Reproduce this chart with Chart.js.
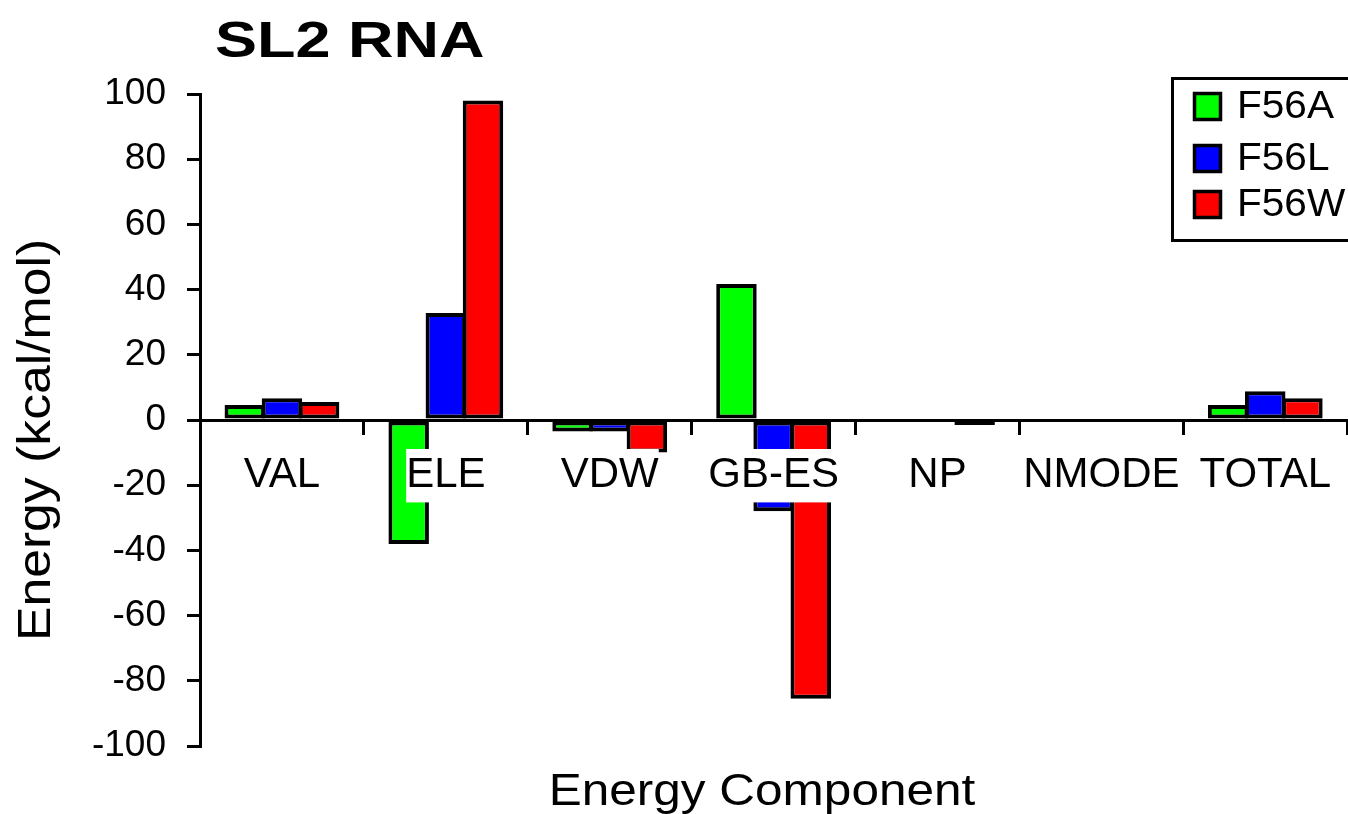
<!DOCTYPE html>
<html>
<head>
<meta charset="utf-8">
<script src="https://cdn.jsdelivr.net/npm/chart.js@4.4.1/dist/chart.umd.min.js"></script>
<style>
  html, body { margin: 0; padding: 0; background: #ffffff; }
  #wrap { width: 1348px; height: 814px; position: relative; }
</style>
</head>
<body>
<div id="wrap"><canvas id="c" width="1348" height="814"></canvas></div>
<script>
const chartTitle = "SL2 RNA";
const xTitle = "Energy Component";
const yTitle = "Energy (kcal/mol)";
const categories = ["VAL", "ELE", "VDW", "GB-ES", "NP", "NMODE", "TOTAL"];
const seriesNames = ["F56A", "F56L", "F56W"];
const seriesColors = ["#00ff00", "#0000ff", "#ff0000"];
const f56a = [4.6, -38, -3.5, 41.7, 0, 0, 4.6];
const f56l = [6.7, 32.8, -3.5, -28, 0, 0, 8.8];
const f56w = [5.5, 98, -10, -85.5, -1.5, 0, 6.7];
const yMin = -100, yMax = 100, yStep = 20;

const FONT = "'Liberation Sans', Arial, Helvetica, sans-serif";

function stretchedText(ctx, text, x, y, sx, align) {
  ctx.save();
  ctx.translate(x, y);
  ctx.scale(sx, 1);
  ctx.textAlign = align;
  ctx.fillText(text, 0, 0);
  ctx.restore();
}

const decorPlugin = {
  id: 'decor',
  afterDraw(chart) {
    const ctx = chart.ctx;
    ctx.save();
    ctx.fillStyle = '#000';
    ctx.textBaseline = 'alphabetic';
    // Title
    ctx.font = "bold 50px " + FONT;
    stretchedText(ctx, chartTitle, 215, 57, 1.26, 'left');
    // X title
    ctx.font = "45px " + FONT;
    stretchedText(ctx, xTitle, 762, 805, 1.1, 'center');
    // Y title
    ctx.save();
    ctx.translate(50, 440);
    ctx.rotate(-Math.PI / 2);
    ctx.font = "47px " + FONT;
    stretchedText(ctx, yTitle, 0, 0, 1.1, 'center');
    ctx.restore();
    // Legend
    ctx.lineWidth = 3;
    ctx.strokeStyle = '#000';
    ctx.strokeRect(1172.5, 78.5, 200, 162);
    const rows = [106, 158, 204];
    chart.data.datasets.forEach((ds, i) => {
      const cy = rows[i];
      ctx.fillStyle = ds.backgroundColor;
      ctx.fillRect(1194, cy - 13, 27, 27);
      ctx.lineWidth = 3.5;
      ctx.strokeRect(1194.5, cy - 12.5, 26, 26);
      ctx.fillStyle = '#000';
      ctx.font = "39px " + FONT;
      ctx.textBaseline = 'middle';
      stretchedText(ctx, ds.label, 1237, cy + 1, 1.04, 'left');
    });
    ctx.restore();
  }
};

const datasetsData = [f56a, f56l, f56w];
new Chart(document.getElementById('c'), {
  type: 'bar',
  data: {
    labels: categories,
    datasets: seriesNames.map((name, i) => ({
      label: name,
      data: datasetsData[i],
      backgroundColor: seriesColors[i],
      borderColor: '#000000',
      borderWidth: 4,
      borderSkipped: false,
      inflateAmount: 0,
      categoryPercentage: 0.68,
      barPercentage: 1.09
    }))
  },
  options: {
    responsive: false,
    animation: false,
    devicePixelRatio: 1,
    layout: { padding: { top: 94, bottom: 68, left: 0, right: 0 } },
    plugins: {
      legend: { display: false },
      title: { display: false },
      tooltip: { enabled: false }
    },
    scales: {
      x: {
        position: { y: 0 },
        grid: { drawOnChartArea: false, drawTicks: true, tickLength: 13, color: '#000', lineWidth: 3, offset: true, z: 1 },
        border: { display: true, color: '#000', width: 3, z: 1 },
        ticks: {
          z: 2,
          color: '#000', font: { family: FONT, size: 42 }, padding: 17, maxRotation: 0, autoSkip: false,
          showLabelBackdrop: true, backdropColor: '#ffffff',
          backdropPadding: { top: 1, bottom: 2, left: 0, right: 0 }
        }
      },
      y: {
        min: yMin, max: yMax,
        afterFit(scale) { scale.width = 200; },
        grid: { drawOnChartArea: false, drawTicks: true, tickLength: 13, color: '#000', lineWidth: 3 },
        border: { display: true, color: '#000', width: 3 },
        ticks: { stepSize: yStep, color: '#000', font: { family: FONT, size: 37 }, padding: 21 }
      }
    }
  },
  plugins: [decorPlugin]
});
</script>
</body>
</html>
